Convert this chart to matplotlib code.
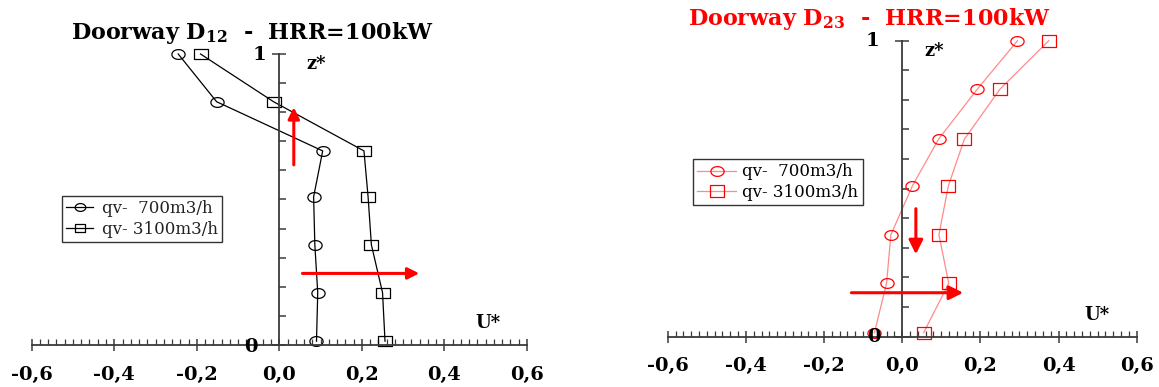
import matplotlib
matplotlib.use('Agg')
import matplotlib.pyplot as plt
import numpy as np
from matplotlib.path import Path
from matplotlib.markers import MarkerStyle
from matplotlib.ticker import MultipleLocator

plt.rcParams['font.family'] = 'DejaVu Serif'
plt.rcParams['mathtext.fontset'] = 'custom'
plt.rcParams['mathtext.rm'] = 'DejaVu Serif:bold'
plt.rcParams['mathtext.it'] = 'DejaVu Serif:bold'
plt.rcParams['mathtext.bf'] = 'DejaVu Serif:bold'

# dimensionless height of the measuring points
z = [1.0, 0.836, 0.667, 0.509, 0.344, 0.180, 0.013]

# doorway D12, dimensionless velocity U*
u12_700 = [-0.245, -0.152, 0.105, 0.083, 0.086, 0.093, 0.090]
u12_3100 = [-0.191, -0.014, 0.205, 0.215, 0.223, 0.250, 0.256]

# doorway D23
u23_700 = [0.295, 0.192, 0.093, 0.026, -0.029, -0.040, -0.071]
u23_3100 = [0.375, 0.250, 0.159, 0.118, 0.094, 0.119, 0.055]

labels = ['qv-  700m3/h', 'qv- 3100m3/h']
xticks = [-0.6, -0.4, -0.2, 0.0, 0.2, 0.4, 0.6]
xticklabels = ['-0,6', '-0,4', '-0,2', '0,0', '0,2', '0,4', '0,6']

# flow direction arrows (u0, z0, u1, z1)
arrows12 = [(0.035, 0.619, 0.035, 0.817), (0.056, 0.246, 0.339, 0.246)]
arrows23 = [(0.035, 0.432, 0.035, 0.278), (-0.13, 0.148, 0.156, 0.148)]

# slightly flattened open markers
t = np.linspace(0, 2 * np.pi, 80)
ell = Path(np.column_stack([1.35 * np.cos(t), np.sin(t)]), closed=True)
box = Path([(-1.25, -1), (1.25, -1), (1.25, 1), (-1.25, 1), (-1.25, -1)], closed=True)
m_circ = MarkerStyle(ell)
m_box = MarkerStyle(box)

axcol = '#3a3a3a'

fig = plt.figure(figsize=(11.59, 3.87), dpi=100)
ax1 = fig.add_axes([31.7 / 1159, 42 / 387, 495.3 / 1159, 291 / 387])
ax2 = fig.add_axes([667.7 / 1159, 50.5 / 387, 469 / 1159, 295.8 / 387])


def setup(ax):
    ax.set_xlim(-0.6, 0.6)
    ax.set_ylim(0, 1)
    ax.patch.set_visible(False)
    ax.spines['top'].set_visible(False)
    ax.spines['right'].set_visible(False)
    ax.spines['left'].set_position(('data', 0))
    for s in ['left', 'bottom']:
        ax.spines[s].set_color(axcol)
        ax.spines[s].set_linewidth(1.3)
    ax.set_xticks(xticks)
    ax.set_xticklabels(xticklabels, fontweight='bold', fontsize=14)
    ax.xaxis.set_minor_locator(MultipleLocator(0.02))
    ax.tick_params(axis='x', which='major', direction='inout', length=8,
                   width=1.1, color=axcol, pad=11)
    ax.tick_params(axis='x', which='minor', direction='in', length=4,
                   width=0.9, color=axcol)
    ax.set_yticks([0, 1])
    ax.yaxis.set_minor_locator(MultipleLocator(0.1))
    ax.tick_params(axis='y', which='major', direction='inout', length=10,
                   width=1.1, color=axcol, labelleft=False)
    ax.tick_params(axis='y', which='minor', direction='in', length=5,
                   width=1.1, color=axcol)


def draw_arrows(ax, arrows, big=False):
    for u0, z0, u1, z1 in arrows:
        ax.annotate('', xy=(u1, z1), xytext=(u0, z0),
                    arrowprops=dict(arrowstyle='-|>', color='red', lw=2.2,
                                    mutation_scale=21 if big else 17,
                                    shrinkA=0, shrinkB=0))


# ---- left: doorway D12
setup(ax1)
ax1.plot(u12_700, z, color='black', lw=0.9, marker=m_circ, ms=9.5,
         mfc='none', mec='black', mew=0.9, clip_on=False, label=labels[0])
ax1.plot(u12_3100, z, color='black', lw=0.9, marker=m_box, ms=9.5,
         mfc='none', mec='black', mew=0.9, clip_on=False, label=labels[1])
draw_arrows(ax1, arrows12)
ax1.text(-0.031, 0.995, '1', ha='right', va='center', fontsize=14, fontweight='bold')
ax1.text(-0.053, -0.007, '0', ha='right', va='center', fontsize=14, fontweight='bold')
ax1.text(0.065, 0.965, 'z*', ha='left', va='center', fontsize=13, fontweight='bold')
ax1.text(0.475, 0.075, 'U*', ha='left', va='center', fontsize=13, fontweight='bold')
fig.text(252 / 1159, 1 - 33 / 387, r'Doorway D$_{12}$  -  HRR=100kW', ha='center',
         va='center', fontsize=16, fontweight='bold')
leg1 = ax1.legend(loc='upper left', bbox_to_anchor=(62 / 1159, 1 - 196 / 387),
                  bbox_transform=fig.transFigure, borderaxespad=0, fancybox=False,
                  edgecolor='black', handlelength=1.6, handletextpad=0.55,
                  borderpad=0.25, labelspacing=0.2, prop={'size': 12},
                  markerscale=0.8)
leg1.get_frame().set_linewidth(1.0)
for txt in leg1.get_texts():
    txt.set_color('#222222')

# ---- right: doorway D23
setup(ax2)
ax2.plot(u23_700, z, color='#ff8a8a', lw=0.9, marker=m_circ, ms=9.5,
         mfc='none', mec='red', mew=0.9, clip_on=False, label=labels[0])
ax2.plot(u23_3100, z, color='#ff8a8a', lw=0.9, marker=m_box, ms=10,
         mfc='none', mec='red', mew=0.9, clip_on=False, label=labels[1])
draw_arrows(ax2, arrows23, big=True)
ax2.text(-0.058, 1.0, '1', ha='right', va='center', fontsize=14, fontweight='bold')
ax2.text(-0.055, -0.002, '0', ha='right', va='center', fontsize=14, fontweight='bold')
ax2.text(0.058, 0.965, 'z*', ha='left', va='center', fontsize=13, fontweight='bold')
ax2.text(0.467, 0.073, 'U*', ha='left', va='center', fontsize=13, fontweight='bold')
fig.text(869 / 1159, 1 - 19 / 387, r'Doorway D$_{23}$  -  HRR=100kW', ha='center',
         va='center', fontsize=16, fontweight='bold', color='red')
leg2 = ax2.legend(loc='upper left', bbox_to_anchor=(693.3 / 1159, 1 - 159.3 / 387),
                  bbox_transform=fig.transFigure, borderaxespad=0, fancybox=False,
                  edgecolor='black', handlelength=2.3, handletextpad=0.4,
                  borderpad=0.25, labelspacing=0.2, prop={'size': 12})
leg2.get_frame().set_linewidth(1.0)

fig.savefig('out.png', dpi=100)
